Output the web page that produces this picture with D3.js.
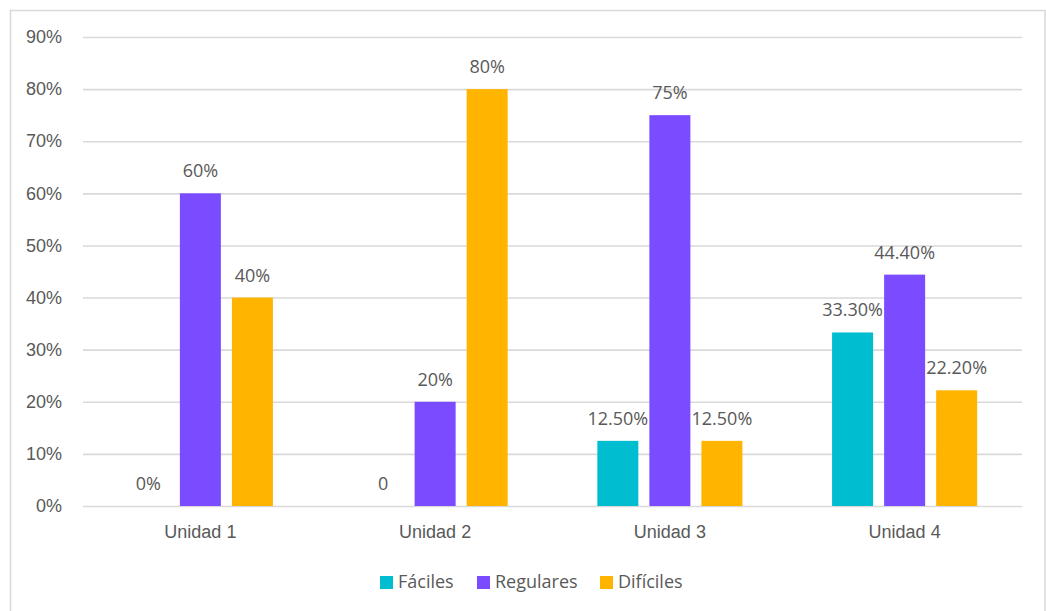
<!DOCTYPE html>
<html>
<head>
<meta charset="utf-8">
<script src="https://cdn.jsdelivr.net/npm/d3@7"></script>
<style>
  html, body { margin: 0; padding: 0; background: #fff; }
  svg { display: block; font-family: "Open Sans", "Noto Sans", sans-serif; }
</style>
</head>
<body>
<svg id="chart" width="1046" height="611"></svg>
<script>
// Units on the x axis
const categories = ["Unidad 1", "Unidad 2", "Unidad 3", "Unidad 4"];
// Series names, as shown in the legend
const seriesNames = ["Fáciles", "Regulares", "Difíciles"];
// Percentages per unit for each series
const faciles = [0, 0, 12.5, 33.3];
const regulares = [60, 20, 75, 44.4];
const dificiles = [40, 80, 12.5, 22.2];
// Value labels printed above each bar
const facilesLabels = ["0%", "0", "12.50%", "33.30%"];
const regularesLabels = ["60%", "20%", "75%", "44.40%"];
const dificilesLabels = ["40%", "80%", "12.50%", "22.20%"];
// Y-axis ticks
const yTicks = [0, 10, 20, 30, 40, 50, 60, 70, 80, 90];
const seriesColors = ["#00bdd0", "#7b4bff", "#ffb400"];

const seriesValues = [faciles, regulares, dificiles];
const seriesLabels = [facilesLabels, regularesLabels, dificilesLabels];

const FONT = 18;
const TEXT = "#595959";

const svg = d3.select("#chart");
const W = 1046, H = 611;
const plot = { left: 83, right: 1022, top: 37, bottom: 506 };

// Outer frame
svg.append("rect")
  .attr("x", 10.5).attr("y", 10.5)
  .attr("width", W - 11.5).attr("height", H)
  .attr("fill", "#fff")
  .attr("stroke", "#d9d9d9").attr("stroke-width", 1.5);

const y = d3.scaleLinear().domain([0, 90]).range([plot.bottom, plot.top]);
const x0 = d3.scaleBand().domain(categories)
  .range([plot.left, plot.right])
  .paddingInner(0.382).paddingOuter(0.191);
const x1 = d3.scaleBand().domain(seriesNames)
  .range([0, x0.bandwidth()])
  .paddingInner(0.212).paddingOuter(0);

// Horizontal gridlines and tick labels
const yAxis = d3.axisLeft(y).tickValues(yTicks)
  .tickSize(-(plot.right - plot.left))
  .tickPadding(21)
  .tickFormat(d => d + "%");
const gy = svg.append("g")
  .attr("transform", `translate(${plot.left},0)`)
  .call(yAxis);
gy.select(".domain").remove();
gy.selectAll(".tick line").attr("stroke", "#d9d9d9").attr("stroke-width", 1.6);
gy.selectAll(".tick text")
  .attr("fill", TEXT).attr("font-size", FONT).attr("font-family", null);

// Category axis labels
const xAxis = d3.axisBottom(x0).tickSize(0);
const gx = svg.append("g")
  .attr("transform", `translate(0,${plot.bottom})`)
  .call(xAxis);
gx.select(".domain").remove();
gx.selectAll(".tick text")
  .attr("y", 32).attr("dy", null)
  .attr("fill", TEXT).attr("font-size", FONT).attr("font-family", null);

// Bars and value labels
const rows = [];
seriesNames.forEach((s, si) => {
  categories.forEach((c, ci) => {
    rows.push({ s, si, c, v: seriesValues[si][ci], label: seriesLabels[si][ci] });
  });
});

const groups = svg.append("g");
groups.selectAll("rect.bar")
  .data(rows.filter(d => d.v > 0))
  .join("rect")
  .attr("class", "bar")
  .attr("x", d => x0(d.c) + x1(d.s))
  .attr("y", d => y(d.v))
  .attr("width", x1.bandwidth())
  .attr("height", d => y(0) - y(d.v))
  .attr("fill", d => seriesColors[d.si]);

groups.selectAll("text.val")
  .data(rows)
  .join("text")
  .attr("class", "val")
  .attr("x", d => x0(d.c) + x1(d.s) + x1.bandwidth() / 2)
  .attr("y", d => y(d.v) - 16)
  .attr("text-anchor", "middle")
  .attr("fill", TEXT)
  .attr("font-size", FONT)
  .text(d => d.label);

// Legend
const legendX = [380, 477, 600];
const legend = svg.append("g");
seriesNames.forEach((s, i) => {
  const g = legend.append("g").attr("transform", `translate(${legendX[i]},576)`);
  g.append("rect").attr("width", 13).attr("height", 13).attr("fill", seriesColors[i]);
  g.append("text").attr("x", 18).attr("y", 12)
    .attr("fill", TEXT).attr("font-size", FONT).text(s);
});
</script>
</body>
</html>
